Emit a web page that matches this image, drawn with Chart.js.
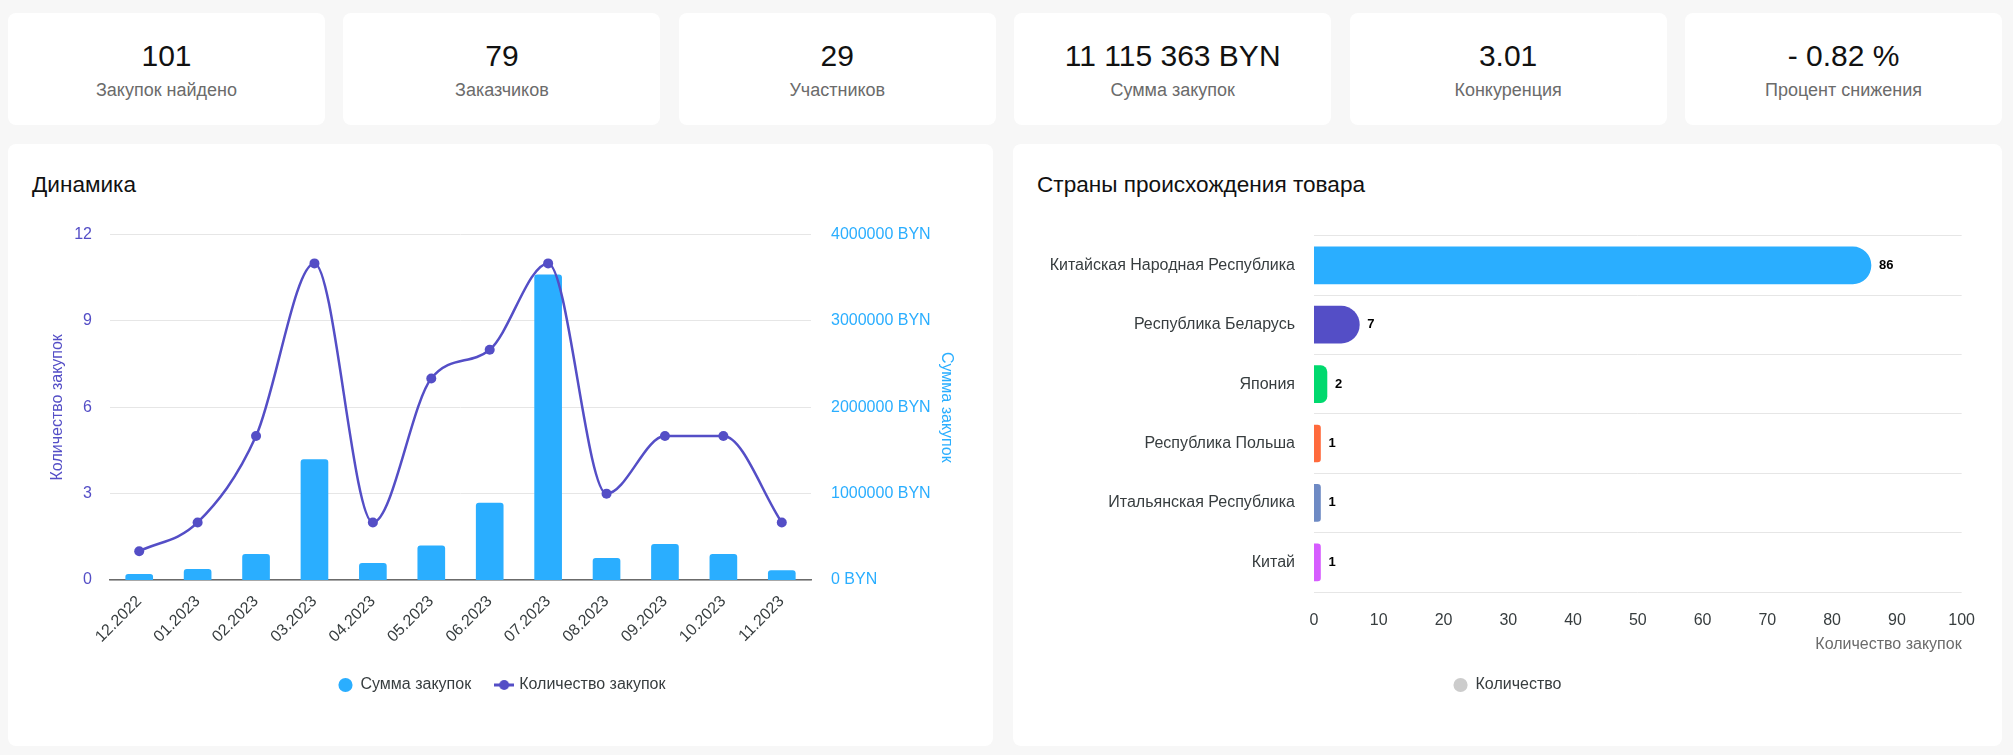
<!DOCTYPE html>
<html lang="ru">
<head>
<meta charset="UTF-8">
<title>Аналитика закупок</title>
<script src="https://cdn.jsdelivr.net/npm/chart.js@4.4.1/dist/chart.umd.min.js"></script>
<style>
  body { margin: 0; background: #f7f7f7; font-family: "Liberation Sans", Arial, sans-serif; width: 2013px; height: 755px; overflow: hidden; position: relative; }
  .stat { position: absolute; top: 13px; width: 317px; height: 112px; background: #fff; border-radius: 8px; text-align: center; }
  .stat .num { position: absolute; left: 0; right: 0; top: 28px; font-size: 30px; line-height: 30px; color: #111; }
  .stat .lbl { position: absolute; left: 0; right: 0; top: 68px; font-size: 18px; line-height: 18px; color: #6b6b6b; }
  .card { position: absolute; top: 144px; height: 602px; background: #fff; border-radius: 8px; }
  .card h3 { position: absolute; left: 24px; top: 30px; margin: 0; font-size: 22.6px; line-height: 22px; font-weight: normal; color: #111; }
  .wrap { position: absolute; left: 16px; top: 63px; height: 527px; }
</style>
</head>
<body>
<div id="stats"></div>

<div class="card" style="left:8px; width:985px;">
  <h3>Динамика</h3>
  <div class="wrap" style="width:952px;"><canvas id="dynChart"></canvas></div>
</div>

<div class="card" style="left:1013px; width:989px;">
  <h3>Страны происхождения товара</h3>
  <div class="wrap" style="width:957px;"><canvas id="countryChart"></canvas></div>
</div>

<script>
// summary cards
var statValues = ['101', '79', '29', '11 115 363 BYN', '3.01', '- 0.82 %'];
var statLabels = ['Закупок найдено', 'Заказчиков', 'Участников', 'Сумма закупок', 'Конкуренция', 'Процент снижения'];

// monthly dynamics
var months = ['12.2022', '01.2023', '02.2023', '03.2023', '04.2023', '05.2023',
              '06.2023', '07.2023', '08.2023', '09.2023', '10.2023', '11.2023'];
var purchaseSums = [65000, 124000, 297000, 1395000, 193000, 397000,
                    890000, 3534000, 250000, 413000, 297000, 108000];
var purchaseCounts = [1, 2, 5, 11, 2, 7, 8, 11, 3, 5, 5, 2];

// countries of origin
var countries = ['Китайская Народная Республика', 'Республика Беларусь', 'Япония',
                 'Республика Польша', 'Итальянская Республика', 'Китай'];
var countryCounts = [86, 7, 2, 1, 1, 1];

var BLUE = '#2aaeff';
var INDIGO = '#544ec6';
var countryColors = [BLUE, INDIGO, '#00d96e', '#ff6a3c', '#6e8ac4', '#d65cff'];
var TEXT = '#373d3f';

// cards
var statsDiv = document.getElementById('stats');
for (var i = 0; i < statValues.length; i++) {
    var d = document.createElement('div');
    d.className = 'stat';
    d.style.left = (8 + i * 335.4) + 'px';
    d.innerHTML = '<div class="num">' + statValues[i] + '</div><div class="lbl">' + statLabels[i] + '</div>';
    statsDiv.appendChild(d);
}

Chart.defaults.font.family = '"Liberation Sans", Arial, sans-serif';
Chart.defaults.color = TEXT;

// legend marker for the line series: short line with a dot
var lineMarker = document.createElement('canvas');
lineMarker.width = 20;
lineMarker.height = 12;
var mc = lineMarker.getContext('2d');
mc.strokeStyle = INDIGO;
mc.fillStyle = INDIGO;
mc.lineWidth = 3;
mc.beginPath(); mc.moveTo(0, 6); mc.lineTo(20, 6); mc.stroke();
mc.beginPath(); mc.arc(10, 6, 5, 0, Math.PI * 2); mc.fill();

new Chart(document.getElementById('dynChart'), {
    data: {
        labels: months,
        datasets: [
            {
                type: 'bar',
                label: 'Сумма закупок',
                data: purchaseSums,
                yAxisID: 'ySum',
                backgroundColor: BLUE,
                borderRadius: 3,
                barThickness: 27,
                order: 1
            },
            {
                type: 'line',
                label: 'Количество закупок',
                data: purchaseCounts,
                yAxisID: 'yCount',
                borderColor: INDIGO,
                backgroundColor: INDIGO,
                borderWidth: 2.5,
                pointRadius: 5,
                pointBorderWidth: 0,
                pointBackgroundColor: INDIGO,
                cubicInterpolationMode: 'monotone',
                order: 0
            }
        ]
    },
    options: {
        responsive: true,
        maintainAspectRatio: false,
        animation: false,
        layout: { padding: { left: 20, right: 16, top: 13, bottom: 31 } },
        plugins: {
            tooltip: { enabled: false },
            legend: {
                position: 'bottom',
                labels: {
                    usePointStyle: true,
                    boxWidth: 14,
                    boxHeight: 10,
                    padding: 26,
                    color: TEXT,
                    font: { size: 16 },
                    sort: function (a, b) { return a.datasetIndex - b.datasetIndex; },
                    generateLabels: function (chart) {
                        var items = Chart.defaults.plugins.legend.labels.generateLabels(chart);
                        items.forEach(function (it) {
                            if (it.datasetIndex === 1) it.pointStyle = lineMarker;
                            else it.pointStyle = 'circle';
                        });
                        return items;
                    }
                }
            }
        },
        scales: {
            x: {
                grid: { display: false },
                border: { color: '#6b6b6b', width: 1.5 },
                ticks: { color: TEXT, font: { size: 16 }, minRotation: 45, maxRotation: 45, padding: 4 },
                afterFit: function (s) { s.height = 71; }
            },
            yCount: {
                position: 'left',
                min: 0,
                max: 12,
                ticks: { stepSize: 3, color: INDIGO, font: { size: 16 }, padding: 18 },
                grid: { color: '#e6e6e6', drawTicks: false },
                border: { display: false },
                title: { display: true, text: 'Количество закупок', color: INDIGO, font: { size: 16 } },
                afterFit: function (s) { s.width = 66; }
            },
            ySum: {
                position: 'right',
                min: 0,
                max: 4000000,
                ticks: {
                    stepSize: 1000000,
                    color: BLUE,
                    font: { size: 16 },
                    padding: 12,
                    callback: function (v) { return v + ' BYN'; }
                },
                grid: { display: false },
                border: { display: false },
                title: { display: true, text: 'Сумма закупок', color: BLUE, font: { size: 16 } },
                afterFit: function (s) { s.width = 149; }
            }
        }
    }
});

// numbers at the end of horizontal bars
var valueLabels = {
    id: 'valueLabels',
    afterDatasetsDraw: function (chart) {
        var ctx = chart.ctx;
        var meta = chart.getDatasetMeta(0);
        var data = chart.data.datasets[0].data;
        ctx.save();
        ctx.font = 'bold 13px "Liberation Sans", Arial, sans-serif';
        ctx.fillStyle = '#000';
        ctx.textBaseline = 'middle';
        meta.data.forEach(function (bar, i) {
            ctx.fillText(data[i], bar.x + 8, bar.y);
        });
        ctx.restore();
    }
};

new Chart(document.getElementById('countryChart'), {
    type: 'bar',
    data: {
        labels: countries,
        datasets: [{
            label: 'Количество',
            data: countryCounts,
            backgroundColor: countryColors,
            borderRadius: 40,
            borderSkipped: 'start',
            barThickness: 37
        }]
    },
    options: {
        indexAxis: 'y',
        responsive: true,
        maintainAspectRatio: false,
        animation: false,
        layout: { padding: { left: 14, right: 14, top: 13, bottom: 31 } },
        plugins: {
            tooltip: { enabled: false },
            legend: {
                position: 'bottom',
                labels: {
                    usePointStyle: true,
                    boxWidth: 14,
                    boxHeight: 10,
                    padding: 19,
                    color: TEXT,
                    font: { size: 16 },
                    generateLabels: function (chart) {
                        var items = Chart.defaults.plugins.legend.labels.generateLabels(chart);
                        items.forEach(function (it) {
                            it.fillStyle = '#cccccc';
                            it.strokeStyle = '#cccccc';
                            it.pointStyle = 'circle';
                        });
                        return items;
                    }
                }
            }
        },
        scales: {
            x: {
                min: 0,
                max: 100,
                ticks: { stepSize: 10, color: TEXT, font: { size: 16 }, padding: 11 },
                grid: { display: false },
                border: { display: false },
                title: { display: true, text: 'Количество закупок', align: 'end', color: '#6b6b6b', font: { size: 16 } },
                afterFit: function (s) { s.height = 66; }
            },
            y: {
                ticks: { color: TEXT, font: { size: 16 }, padding: 19 },
                grid: { color: '#e6e6e6', drawTicks: false },
                border: { display: false },
                afterFit: function (s) { s.width = 271; }
            }
        }
    },
    plugins: [valueLabels]
});
</script>
</body>
</html>
